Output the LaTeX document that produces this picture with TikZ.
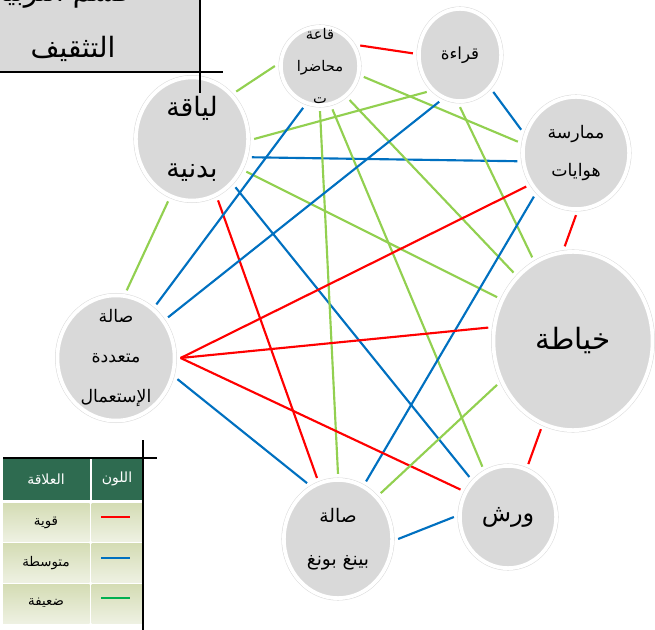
\documentclass[tikz,border=0pt]{standalone}
\usepackage{fontspec}
\usetikzlibrary{shapes.geometric}
\TeXXeTstate=1
\newfontfamily\arabicfont[Script=Arabic]{DejaVu Sans}
\newcommand\ar[1]{\beginR #1\endR}
\definecolor{cgray}{RGB}{217,217,217}
\definecolor{cred}{RGB}{255,0,0}
\definecolor{cblue}{RGB}{0,112,192}
\definecolor{cgreen}{RGB}{146,208,80}
\definecolor{lgreen}{RGB}{0,176,80}
\definecolor{hdrgreen}{RGB}{46,107,80}
\definecolor{rowtop}{RGB}{212,220,180}
\definecolor{rowbot}{RGB}{238,241,226}
\begin{document}
\begin{tikzpicture}[x=0.75pt,y=-0.75pt,
  bub/.style 2 args={ellipse, minimum width=#1, minimum height=#2, inner sep=0pt,
    outer sep=4.5pt, fill=cgray, draw=black!14, line width=0.4pt, double=white,
    double distance=2.8pt},
  lbl/.style 2 args={align=center, inner sep=0pt, font={\arabicfont\fontsize{#1}{#2}\selectfont}},
  rE/.style={draw=cred, line width=1.6pt},
  bE/.style={draw=cblue, line width=1.6pt},
  gE/.style={draw=cgreen, line width=1.6pt},
  rule/.style={draw=black, line width=1.5pt},
  hdr/.style={fill=hdrgreen},
  rowc/.style={top color=rowtop, bottom color=rowbot},
  ltxt/.style={inner sep=0pt, font={\arabicfont\fontsize{10}{12}\selectfont}},
  htxt/.style={inner sep=0pt, text=white, font={\arabicfont\fontsize{10.5}{12}\selectfont}},
  sample/.style={line width=1.8pt}
]
\useasboundingbox (0,0) rectangle (655,630);

% top-left box
\fill[cgray] (0,0) rectangle (200,72);
\node[lbl={21}{26}, anchor=base] (boxA) at (50,2) {\ar{قسم التربية و}};
\node[lbl={21}{26}, anchor=base] (boxB) at (73,58) {\ar{التثقيف}};

% bubbles
\node[bub={84.2pt}{92.4pt}]  (L) at (192,139) {};
\node[bub={58.7pt}{58.7pt}]  (Q) at (320,66) {};
\node[bub={61.7pt}{69.2pt}]  (R) at (460,55) {};
\node[bub={79.7pt}{84.2pt}]  (H) at (576,153) {};
\node[bub={119.4pt}{133.7pt}] (K) at (573,341) {};
\node[bub={72.2pt}{76.7pt}]  (W) at (508,517) {};
\node[bub={81.2pt}{88.7pt}]  (P) at (338,539) {};
\node[bub={87.9pt}{93.9pt}]  (M) at (116,358) {};

% bubble texts
\node[lbl={20}{46}] (Lt) at (L.center) {\ar{لياقة}\\\ar{بدنية}};
\node[lbl={11}{24}] (Qt) at (Q.center) {\ar{قاعة}\\\ar{محاضرا}\\\ar{ت}};
\node[lbl={12.5}{16}] (Rt) at (R.center) {\ar{قراءة}};
\node[lbl={13}{28}] (Ht) at (H.center) {\ar{ممارسة}\\\ar{هوايات}};
\node[lbl={22}{26}] (Kt) at (K.center) {\ar{خياطة}};
\node[lbl={18}{22}] (Wt) at (W.center) {\ar{ورش}};
\node[lbl={14}{32}] (Pt) at (P.center) {\ar{صالة}\\\ar{بينغ بونغ}};
\node[lbl={13}{30}] (Mt) at (M.center) {\ar{صالة}\\\ar{متعددة}\\\ar{الإستعمال}};

% connectors
\draw[gE] (L.47) -- (Q.180);
\draw[rE] (Q.27) -- (R.178);
\draw[gE] (L.0) -- (R.-132);
\draw[bE] (L.-17) -- (H.-172);
\draw[gE] (L.-31) -- (K.150);
\draw[rE] (L.-67) -- (P.109);
\draw[bE] (L.-48) -- (W.134);
\draw[gE] (L.-111) -- (M.81);
\draw[bE] (Q.-112) -- (M.53);
\draw[gE] (Q.-90) -- (P.90);
\draw[gE] (Q.-74) -- (W.117);
\draw[gE] (Q.-49) -- (K.131);
\draw[gE] (Q.-14) -- (H.169);
\draw[bE] (R.-114) -- (M.38);
\draw[gE] (R.-90) -- (K.116);
\draw[bE] (R.-48) -- (H.157);
\draw[rE] (H.-146) -- (M.0);
\draw[bE] (H.-134) -- (P.64);
\draw[rE] (H.-90) -- (K.95);
\draw[rE] (M.0) -- (K.171);
\draw[rE] (M.0) -- (W.150);
\draw[bE] (M.-19) -- (P.119);
\draw[gE] (K.-150) -- (P.47);
\draw[rE] (K.-110) -- (W.69);
\draw[bE] (P.0) -- (W.180);

% box rules
\draw[rule] (200,0) -- (200,93);
\draw[rule] (0,72) -- (223,72);

% legend table
\fill[hdr] (3,459) rectangle (89.5,500);
\fill[hdr] (91.5,459) rectangle (142,500);
\shade[rowc] (3,503) rectangle (89.5,541);
\shade[rowc] (91.5,503) rectangle (142,541);
\shade[rowc] (3,543) rectangle (89.5,582);
\shade[rowc] (91.5,543) rectangle (142,582);
\shade[rowc] (3,584) rectangle (89.5,623);
\shade[rowc] (91.5,584) rectangle (142,623);
\node[htxt] (hA) at (46,479) {\ar{العلاقة}};
\node[htxt] (hB) at (117,479) {\ar{اللون}};
\node[ltxt] (r1) at (46,523) {\ar{قوية}};
\node[ltxt] (r2) at (46,563) {\ar{متوسطة}};
\node[ltxt] (r3) at (46,603) {\ar{ضعيفة}};
\draw[sample, cred] (101,517) -- (130,517);
\draw[sample, cblue] (101,558) -- (130,558);
\draw[sample, lgreen] (101,598) -- (130,598);
\draw[rule] (3,458) -- (157,458);
\draw[rule] (143,440) -- (143,630);
\end{tikzpicture}
\end{document}
